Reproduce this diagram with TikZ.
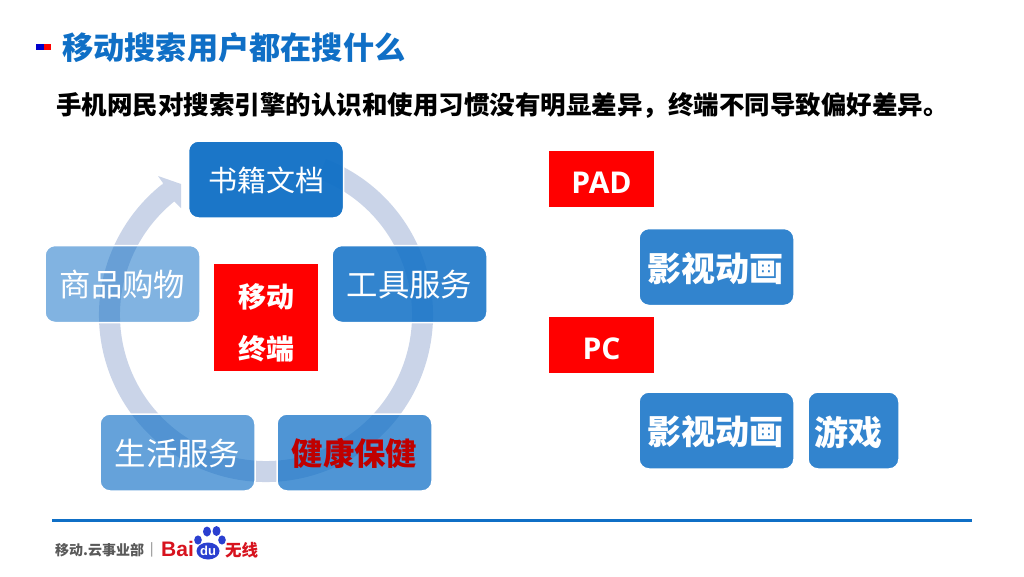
\documentclass[tikz,border=0pt]{standalone}
\usepackage{fontspec}
\setmainfont{Noto Sans CJK SC}
\newfontfamily\latinbold[BoldFont=Open Sans Bold]{Open Sans}
\newfontfamily\logofont{Liberation Sans}
\newcommand{\pxsize}[1]{\fontsize{#1}{#1}\selectfont}
\newcommand{\lowertxt}[2]{\raisebox{-#1pt}[\height][\depth]{#2}}
\definecolor{brandblue}{HTML}{0F6FC6}
\definecolor{ringc}{HTML}{CAD4E8}
\definecolor{redbox}{HTML}{FF0000}
\definecolor{darkred}{HTML}{C00000}
\definecolor{logored}{HTML}{D7131E}
\definecolor{logoblue}{HTML}{2A3FD0}
\tikzset{
  cyclebox/.style={rectangle,rounded corners=10pt,minimum width=155pt,minimum height=77pt,inner sep=0pt,
    fill=brandblue,draw=white,line width=1.5pt,text=white,font=\pxsize{31.4}},
  solidbox/.style={cyclebox,fill opacity=.85,text opacity=1,font=\pxsize{34}\bfseries},
  tagbox/.style={rectangle,minimum width=105pt,minimum height=56pt,inner sep=0pt,fill=redbox,text=white,font=\latinbold\pxsize{30}\bfseries},
}
\begin{document}
\begin{tikzpicture}[x=1pt,y=-1pt]
\useasboundingbox (0,0) rectangle (1024,576);
\fill[white] (0,0) rectangle (1024,576);
% title
\fill[fill=blue!80!black] (36,44) rectangle (44,50);
\fill[fill=redbox] (44,44) rectangle (51,50);
\node[anchor=west,inner sep=0pt,text=brandblue,font=\pxsize{31.2}\bfseries] (title) at (62,48) {移动搜索用户都在搜什么};
\node[anchor=west,inner sep=0pt,font=\pxsize{25.5}\bfseries] (subtitle) at (56,105.5) {手机网民对搜索引擎的认识和使用习惯没有明显差异，终端不同导致偏好差异。};
% ring
\begin{scope}[shift={(266,315)},y=1pt]
\draw[ringc,line width=21pt] (69:156.5) arc (69:-231.5:156.5);
\end{scope}
\fill[ringc] (163,183) -- (158,176) -- (181,184) -- (181,208) -- (175,202) -- (160,190) -- cycle;
% cycle boxes
\node[cyclebox,fill opacity=.95,text opacity=1,font=\pxsize{29}] (book) at (266,179.5) {\lowertxt{1}{书籍文档}};
\node[cyclebox,fill opacity=.85,text opacity=1] (tool) at (409.5,284) {\lowertxt{1}{工具服务}};
\node[cyclebox,fill opacity=.73,text opacity=1,text=darkred,font=\pxsize{31.4}\bfseries] (health) at (354.5,452.5) {\lowertxt{1}{健康保健}};
\node[cyclebox,fill opacity=.64,text opacity=1] (life) at (177.5,452.5) {\lowertxt{1}{生活服务}};
\node[cyclebox,fill opacity=.52,text opacity=1] (shop) at (122.5,284) {\lowertxt{1}{商品购物}};
% centre
\node[rectangle,minimum width=104pt,minimum height=107pt,inner sep=0pt,fill=redbox] (centre) at (266,317.5) {};
\node[text=white,font=\pxsize{28}\bfseries,inner sep=0pt] (c1) at (266,297) {移动};
\node[text=white,font=\pxsize{28}\bfseries,inner sep=0pt] (c2) at (266,349) {终端};
% right side
\node[tagbox] (pad) at (601.5,179) {\lowertxt{4}{PAD}};
\node[tagbox] (pc) at (601.5,345) {\lowertxt{4}{PC}};
\node[solidbox] (film1) at (716.5,267) {\hspace*{-2pt}\lowertxt{1.5}{影视动画}};
\node[solidbox] (film2) at (716.5,430.5) {\hspace*{-2pt}\lowertxt{1.5}{影视动画}};
\node[solidbox,minimum width=91pt] (game) at (853.5,430.5) {\hspace*{-10pt}\lowertxt{1.5}{游戏}};
% footer
\draw[brandblue,line width=3pt] (52,520) -- (972,520);
\node[anchor=west,inner sep=0pt,text=black!65,font=\pxsize{14}\bfseries] (dept) at (55,550) {移动.云事业部};
\node[inner sep=0pt,text=black!55,font=\pxsize{13}] (sep) at (152,550) {|};
\node[anchor=base west,inner sep=0pt,text=logored,font=\logofont\pxsize{21}\bfseries] (bai) at (161,556) {Bai};
\fill[logoblue] (198,540) ellipse (3.8pt and 4.6pt);
\fill[logoblue] (207,531.5) ellipse (4pt and 5pt);
\fill[logoblue] (216.5,531) ellipse (4pt and 5pt);
\fill[logoblue] (222,540) ellipse (3.8pt and 4.6pt);
\fill[logoblue] (208,551) ellipse (11.5pt and 8.5pt);
\node[inner sep=0pt,text=white,font=\logofont\pxsize{13}\bfseries] (du) at (208,551) {du};
\node[anchor=west,inner sep=0pt,text=logored,font=\pxsize{16.5}\bfseries] (wx) at (225,550) {无线};
\end{tikzpicture}
\end{document}
